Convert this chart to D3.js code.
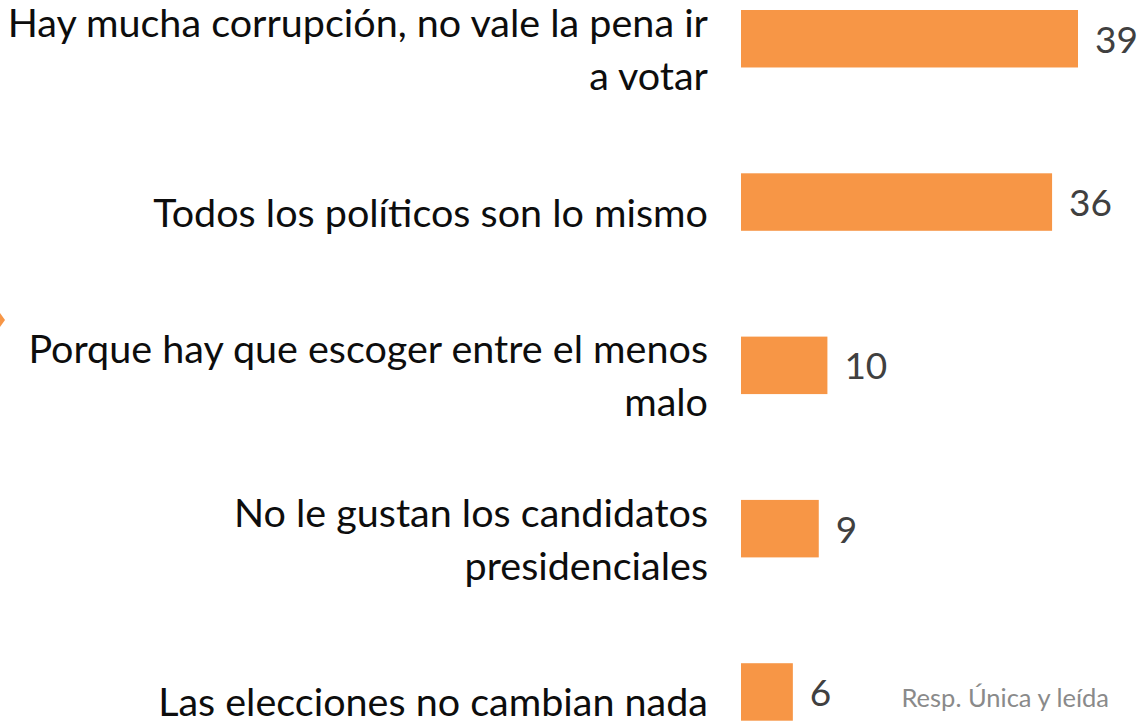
<!DOCTYPE html>
<html><head><meta charset="utf-8">
<script src="https://cdn.jsdelivr.net/npm/d3@7"></script>
<style>body{margin:0;background:#fff;overflow:hidden}</style>
</head><body>
<script>
const categories = [
  ["Hay mucha corrupción, no vale la pena ir", "a votar"],
  ["Todos los políticos son lo mismo"],
  ["Porque hay que escoger entre el menos", "malo"],
  ["No le gustan los candidatos", "presidenciales"],
  ["Las elecciones no cambian nada"]
];
const values = [39, 36, 10, 9, 6];
const note = "Resp. Única y leída";

const W = 1137, H = 721;
const svg = d3.select("body").append("svg").attr("width", W).attr("height", H);

const x = d3.scaleLinear().domain([0, 39]).range([741, 1078]);
const y = d3.scaleBand().domain(d3.range(values.length)).range([10, 720.7]).paddingInner(0.648).paddingOuter(0);

const fontFam = "Lato, 'Open Sans', sans-serif";

svg.append("path").attr("d", "M0,313 L5,320 L0,327 Z").attr("fill", "#F79646");

svg.selectAll("rect.bar").data(values).join("rect")
  .attr("class", "bar")
  .attr("x", x(0))
  .attr("y", (d, i) => y(i))
  .attr("width", d => x(d) - x(0))
  .attr("height", y.bandwidth())
  .attr("fill", "#F79646");

svg.selectAll("text.val").data(values).join("text")
  .attr("class", "val")
  .attr("x", d => x(d) + 17)
  .attr("y", (d, i) => y(i) + y.bandwidth() / 2 + 14)
  .attr("font-family", fontFam)
  .attr("font-size", 37)
  .attr("fill", "#404040")
  .text(d => d);

const lab = svg.selectAll("text.cat").data(categories).join("text")
  .attr("class", "cat")
  .attr("text-anchor", "end")
  .attr("font-family", fontFam)
  .attr("font-size", 39.5)
  .attr("fill", "#0d0d0d");
lab.each(function(lines, i) {
  const cy = y(i) + y.bandwidth() / 2;
  const lh = 53;
  const start = cy - (lines.length - 1) * lh / 2;
  d3.select(this).selectAll("tspan").data(lines).join("tspan")
    .attr("x", 708)
    .attr("y", (d, j) => start + j * lh + 24.5)
    .text(d => d);
});

svg.append("text")
  .attr("x", 1109).attr("y", 707)
  .attr("text-anchor", "end")
  .attr("font-family", fontFam)
  .attr("font-size", 25.5)
  .attr("fill", "#8a8a8a")
  .text(note);
</script>
</body></html>
